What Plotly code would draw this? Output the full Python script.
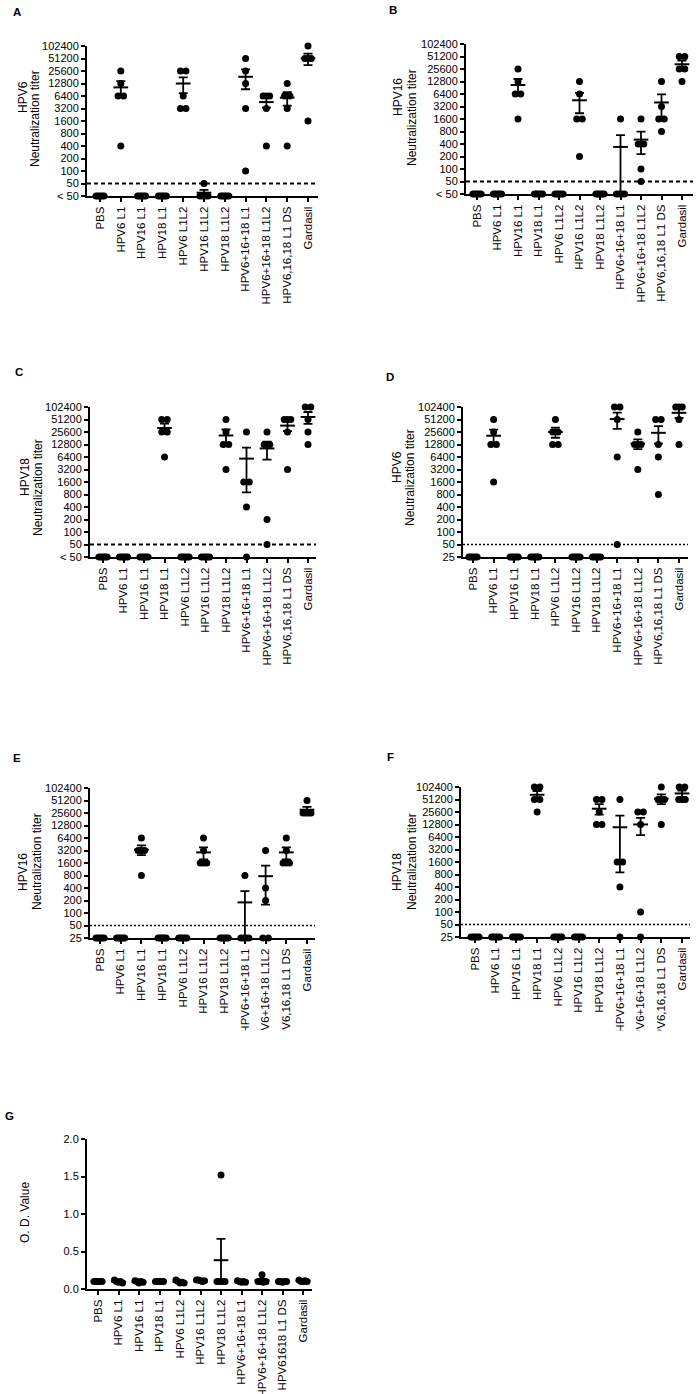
import numpy as np
import plotly.graph_objects as go

W, H = 697, 1394
OFF = 0                      # body margin is removed by the post script below

# ---------------- data ----------------
cats = ["PBS", "HPV6 L1", "HPV16 L1", "HPV18 L1", "HPV6 L1L2", "HPV16 L1L2",
        "HPV18 L1L2", "HPV6+16+18 L1", "HPV6+16+18 L1L2", "HPV6,16,18 L1 DS", "Gardasil"]
cats_g = ["PBS", "HPV6 L1", "HPV16 L1", "HPV18 L1", "HPV6 L1L2", "HPV16 L1L2",
          "HPV18 L1L2", "HPV6+16+18 L1", "HPV6+16+18 L1L2", "HPV61618 L1 DS", "Gardasil"]

titer_ticks = [25, 50, 100, 200, 400, 800, 1600, 3200, 6400, 12800, 25600, 51200, 102400]
ticktext_lt50 = ["< 50", "50", "100", "200", "400", "800", "1600", "3200", "6400",
                 "12800", "25600", "51200", "102400"]
ticktext_25 = ["25", "50", "100", "200", "400", "800", "1600", "3200", "6400",
               "12800", "25600", "51200", "102400"]
od_ticks = [0.0, 0.5, 1.0, 1.5, 2.0]
threshold = 50

# values below detection (< 50) plotted at 25
A_hpv6 = [[25, 25, 25, 25, 25], [25600, 12800, 6400, 6400, 400], [25, 25, 25, 25, 25],
          [25, 25, 25, 25, 25], [25600, 25600, 6400, 3200, 3200], [50, 25, 25, 25, 25],
          [25, 25, 25, 25, 25], [51200, 25600, 12800, 3200, 100], [6400, 6400, 6400, 3200, 400],
          [12800, 6400, 6400, 3200, 400], [102400, 51200, 51200, 51200, 1600]]
B_hpv16 = [[25, 25, 25, 25, 25], [25, 25, 25, 25, 25], [25600, 12800, 6400, 6400, 1600],
           [25, 25, 25, 25, 25], [25, 25, 25, 25, 25], [12800, 6400, 1600, 1600, 200],
           [25, 25, 25, 25, 25], [1600, 25, 25, 25, 25], [1600, 400, 400, 100, 50],
           [12800, 3200, 1600, 1600, 800], [51200, 51200, 25600, 25600, 12800]]
C_hpv18 = [[25, 25, 25, 25, 25], [25, 25, 25, 25, 25], [25, 25, 25, 25, 25],
           [51200, 51200, 25600, 25600, 6400], [25, 25, 25, 25, 25], [25, 25, 25, 25, 25],
           [51200, 25600, 12800, 12800, 3200], [25600, 1600, 1600, 400, 25],
           [25600, 12800, 12800, 200, 50], [51200, 51200, 51200, 25600, 3200],
           [102400, 102400, 51200, 25600, 12800]]
D_hpv6 = [[25, 25, 25, 25, 25], [51200, 25600, 12800, 12800, 1600], [25, 25, 25, 25, 25],
          [25, 25, 25, 25, 25], [51200, 25600, 25600, 12800, 12800], [25, 25, 25, 25, 25],
          [25, 25, 25, 25, 25], [102400, 102400, 51200, 6400, 50],
          [25600, 12800, 12800, 12800, 3200], [51200, 51200, 12800, 6400, 800],
          [102400, 102400, 102400, 51200, 12800]]
E_hpv16 = [[25, 25, 25, 25, 25], [25, 25, 25, 25, 25], [6400, 3200, 3200, 3200, 800],
           [25, 25, 25, 25, 25], [25, 25, 25, 25, 25], [6400, 3200, 1600, 1600, 1600],
           [25, 25, 25, 25, 25], [800, 25, 25, 25, 25], [3200, 400, 200, 25, 25],
           [6400, 3200, 1600, 1600, 1600], [51200, 25600, 25600, 25600, 25600]]
F_hpv18 = [[25, 25, 25, 25, 25], [25, 25, 25, 25, 25], [25, 25, 25, 25, 25],
           [102400, 102400, 51200, 51200, 25600], [25, 25, 25, 25, 25], [25, 25, 25, 25, 25],
           [51200, 51200, 25600, 12800, 12800], [51200, 1600, 1600, 400, 25],
           [25600, 25600, 12800, 100, 25], [102400, 51200, 51200, 51200, 12800],
           [102400, 102400, 51200, 51200, 51200]]
G_od = [[0.10, 0.10, 0.10, 0.10, 0.10], [0.12, 0.10, 0.09, 0.10, 0.08],
        [0.11, 0.10, 0.08, 0.10, 0.09], [0.10, 0.10, 0.10, 0.10, 0.10],
        [0.12, 0.10, 0.08, 0.09, 0.08], [0.12, 0.12, 0.11, 0.10, 0.11],
        [1.52, 0.10, 0.10, 0.10, 0.10], [0.11, 0.10, 0.09, 0.10, 0.09],
        [0.19, 0.10, 0.10, 0.09, 0.10], [0.10, 0.10, 0.09, 0.10, 0.10],
        [0.12, 0.10, 0.10, 0.11, 0.10]]

# ---------------- layout geometry (page pixels) ----------------
panels = [
    dict(key="A", data=A_hpv6, cats=cats, log=True, tt=ticktext_lt50, ytitle="HPV6",
         ax=87, c0=100, c1=308, right=318, top=46, bot=196, dash="4px,3px", dw=2.2,
         letter=(17, 12), t1=(23, 97), t2=(35, 119)),
    dict(key="B", data=B_hpv16, cats=cats, log=True, tt=ticktext_lt50, ytitle="HPV16",
         ax=466, c0=477, c1=682, right=693, top=44, bot=194, dash="4px,3px", dw=2.2,
         letter=(393, 10), t1=(398, 97), t2=(412, 118)),
    dict(key="C", data=C_hpv18, cats=cats, log=True, tt=ticktext_lt50, ytitle="HPV18",
         ax=90, c0=103, c1=308, right=316, top=407, bot=557, dash="4px,3px", dw=2.2,
         letter=(19, 372), t1=(25, 477), t2=(38, 488)),
    dict(key="D", data=D_hpv6, cats=cats, log=True, tt=ticktext_25, ytitle="HPV6",
         ax=463, c0=473, c1=679, right=688, top=407, bot=557, dash="2px,2px", dw=1.5,
         letter=(390, 377), t1=(397, 467), t2=(410, 478)),
    dict(key="E", data=E_hpv16, cats=cats, log=True, tt=ticktext_25, ytitle="HPV16",
         ax=90, c0=100, c1=307, right=315, top=788, bot=938, dash="2px,2px", dw=1.5,
         letter=(17, 758), t1=(23, 872), t2=(37, 862)),
    dict(key="F", data=F_hpv18, cats=cats, log=True, tt=ticktext_25, ytitle="HPV18",
         ax=461, c0=475, c1=682, right=690, top=787, bot=937, dash="2px,2px", dw=1.5,
         letter=(390, 757), t1=(397, 872), t2=(412, 862)),
    dict(key="G", data=G_od, cats=cats_g, log=False, tt=None, ytitle="O. D. Value",
         ax=87, c0=98, c1=303, right=312, top=1139, bot=1289, dash=None, dw=0,
         letter=(9, 1116), t1=(25, 1213), t2=None),
]


def fx(px):
    return (px - OFF) / W


def fy(py):
    return 1 - (py - OFF) / H


FONT = "Liberation Sans, Arial, sans-serif"
fig = go.Figure()
layout = dict(width=W, height=H, margin=dict(l=0, r=0, t=0, b=0, autoexpand=False),
              paper_bgcolor="white", plot_bgcolor="white", showlegend=False,
              font=dict(family=FONT, color="black", size=11))
annotations = []
shapes = []


def jitter(vals, spacing_px, log):
    vals = np.asarray(vals, dtype=float)
    keys = np.round(np.log2(vals), 3) if log else np.round(vals / 0.05)
    offs = np.zeros(len(vals))
    for k in np.unique(keys):
        idx = np.where(keys == k)[0]
        n = len(idx)
        if n == 1:
            continue
        w = 5.5 if n == 2 else (6.5 if n == 3 else 8.0)
        offs[idx] = np.linspace(-w / 2, w / 2, n) / spacing_px
    return offs


for i, p in enumerate(panels, start=1):
    xa = "x" if i == 1 else f"x{i}"
    ya = "y" if i == 1 else f"y{i}"
    sp = (p["c1"] - p["c0"]) / 10.0
    r0 = -(p["c0"] - p["ax"]) / sp
    r1 = 10 + (p["right"] - p["c1"]) / sp

    xs, ys = [], []
    means, ups, downs = [], [], []
    for ci, vals in enumerate(p["data"]):
        v = np.asarray(vals, dtype=float)
        off = jitter(v, sp, p["log"])
        xs.extend(list(ci + off))
        ys.extend(list(v))
        m = v.mean()
        s = v.std(ddof=1) / np.sqrt(len(v))
        lo_floor = 25 if p["log"] else 0
        means.append(m)
        ups.append(s)
        downs.append(min(s, m - lo_floor))

    fig.add_trace(go.Scatter(x=xs, y=ys, mode="markers", xaxis=xa, yaxis=ya,
                             cliponaxis=False,
                             marker=dict(color="black", size=7, line=dict(width=0)),
                             hoverinfo="skip"))
    fig.add_trace(go.Scatter(x=list(range(11)), y=means, mode="markers", xaxis=xa, yaxis=ya,
                             cliponaxis=False,
                             marker=dict(symbol="line-ew", size=10.5, color="black",
                                         line=dict(color="black", width=2)),
                             error_y=dict(type="data", array=ups, arrayminus=downs,
                                          color="black", thickness=1.8, width=4.5),
                             hoverinfo="skip"))
    if p["dash"]:
        fig.add_trace(go.Scatter(x=[r0, r1], y=[threshold, threshold], mode="lines",
                                 xaxis=xa, yaxis=ya, cliponaxis=False,
                                 line=dict(color="black", width=p["dw"], dash=p["dash"]),
                                 hoverinfo="skip"))

    xkey = "xaxis" if i == 1 else f"xaxis{i}"
    ykey = "yaxis" if i == 1 else f"yaxis{i}"
    layout[xkey] = dict(domain=[fx(p["ax"]), fx(p["right"])], anchor=ya, range=[r0, r1],
                        tickmode="array", tickvals=list(range(11)), ticktext=p["cats"],
                        tickangle=-90, ticks="outside", ticklen=4, tickwidth=2,
                        tickcolor="black", showline=True, linecolor="black", linewidth=2,
                        showgrid=False, zeroline=False, automargin=False,
                        tickfont=dict(family=FONT, size=11.5, color="black"))
    ydom = [fy(p["bot"]), fy(p["top"])]
    if p["log"]:
        layout[ykey] = dict(domain=ydom, anchor=xa, type="log",
                            range=[np.log10(25) - 1e-4, np.log10(102400)],
                            tickmode="array", tickvals=titer_ticks, ticktext=p["tt"])
    else:
        layout[ykey] = dict(domain=ydom, anchor=xa, range=[0, 2.0],
                            tickmode="array", tickvals=od_ticks,
                            ticktext=[f"{t:.1f}" for t in od_ticks])
    layout[ykey].update(ticks="outside", ticklen=4, tickwidth=2, tickcolor="black",
                        showline=True, linecolor="black", linewidth=2, showgrid=False,
                        zeroline=False, automargin=False,
                        tickfont=dict(family=FONT, size=11, color="black"))

    # panel letter
    lx, ly = p["letter"]
    annotations.append(dict(text=f"<b>{p['key']}</b>", x=fx(lx), y=fy(ly),
                            xref="paper", yref="paper", showarrow=False,
                            xanchor="center", yanchor="middle",
                            font=dict(family=FONT, size=11.5, color="black")))
    # y titles
    tx, ty = p["t1"]
    annotations.append(dict(text=p["ytitle"], x=fx(tx), y=fy(ty), xref="paper",
                            yref="paper", showarrow=False, textangle=-90,
                            xanchor="center", yanchor="middle",
                            font=dict(family=FONT, size=12, color="black")))
    if p["t2"]:
        tx, ty = p["t2"]
        annotations.append(dict(text="Neutralization titer", x=fx(tx), y=fy(ty),
                                xref="paper", yref="paper", showarrow=False, textangle=-90,
                                xanchor="center", yanchor="middle",
                                font=dict(family=FONT, size=12, color="black")))

# the reference crops long category labels of panels E and F
shapes.append(dict(type="rect", xref="paper", yref="paper", x0=0, x1=1,
                   y0=fy(1100), y1=fy(1030.5), fillcolor="white",
                   line=dict(width=0), layer="above"))

layout["annotations"] = annotations
layout["shapes"] = shapes
fig.update_layout(**layout)
fig.write_html("out.html", config={"displayModeBar": False, "staticPlot": True},
               post_script="document.body.style.margin='0px';document.body.style.overflow='hidden';")
